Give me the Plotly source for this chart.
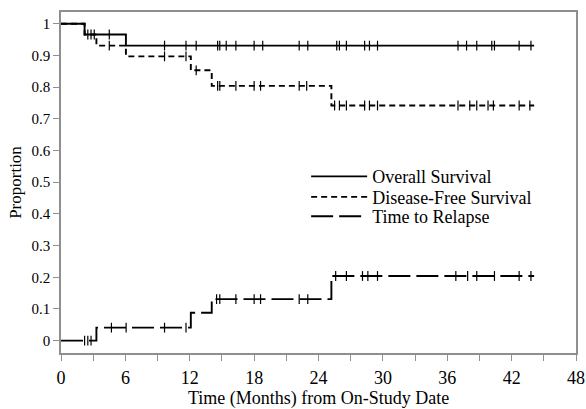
import plotly.graph_objects as go

# ---- data ----
END_TIME = 44.1

os_times = [0, 2.2, 6.05]
os_values = [1.0, 0.966, 0.931]
os_cens_t = [2.5, 2.8, 3.1, 4.5, 9.65, 11.65, 12.6, 14.6, 14.8, 15.4, 16.3, 18.0, 18.8,
             22.2, 23.0, 25.7, 25.95, 26.6, 28.3, 28.75, 29.5, 37.0, 37.8, 38.75, 40.15,
             40.4, 42.7, 43.8]

dfs_times = [0, 2.2, 3.3, 6.05, 12.1, 14.05, 25.2]
dfs_values = [1.0, 0.966, 0.931, 0.897, 0.853, 0.804, 0.742]
dfs_cens_t = [4.5, 9.65, 11.65, 12.6, 14.6, 14.8, 16.3, 18.0, 18.6, 22.2, 22.9,
              25.5, 25.95, 26.6, 28.3, 28.75, 29.5, 37.0, 38.1, 38.75, 39.8, 40.3,
              42.7, 43.7]

ttr_times = [0, 3.3, 12.1, 14.05, 25.2]
ttr_values = [0.0, 0.041, 0.088, 0.131, 0.204]
ttr_cens_t = [2.2, 2.5, 2.8, 4.7, 6.07, 9.65, 11.65, 14.5, 14.8, 16.3, 18.0, 18.6,
              22.2, 23.0, 25.6, 26.6, 28.1, 28.6, 29.5, 36.8, 37.9, 38.75, 40.4,
              42.7, 43.8]

x_ticks = [0, 6, 12, 18, 24, 30, 36, 42, 48]
y_ticks = [0, 0.1, 0.2, 0.3, 0.4, 0.5, 0.6, 0.7, 0.8, 0.9, 1]
y_tick_labels = ["0", "0.1", "0.2", "0.3", "0.4", "0.5", "0.6", "0.7", "0.8", "0.9", "1"]
x_title = "Time (Months) from On-Study Date"
y_title = "Proportion"


def step_value(times, values, t):
    v = values[0]
    for ti, vi in zip(times, values):
        if ti <= t:
            v = vi
    return v


FONT = "Liberation Serif"
GRAY = "#8f8f8f"

series = [
    ("Overall Survival", os_times, os_values, os_cens_t, "solid", "legend", 0.517),
    ("Disease-Free Survival", dfs_times, dfs_values, dfs_cens_t, "6px,4px", "legend2", 0.457),
    ("Time to Relapse", ttr_times, ttr_values, ttr_cens_t, "22px,6px", "legend3", 0.400),
]

fig = go.Figure()
for name, times, values, cens, dash, leg, ly in series:
    fig.add_trace(go.Scatter(
        x=list(times) + [END_TIME], y=list(values) + [values[-1]],
        mode="lines", line=dict(shape="hv", color="black", width=1.9, dash=dash),
        name=name, showlegend=True, legend=leg))
for name, times, values, cens, dash, leg, ly in series:
    fig.add_trace(go.Scatter(
        x=cens, y=[step_value(times, values, t) for t in cens],
        mode="markers", showlegend=False, hoverinfo="skip",
        marker=dict(symbol="line-ns", size=7, color="black",
                    line=dict(width=1.2, color="black"))))

legend_common = dict(x=0.476, xanchor="left", yanchor="middle",
                     bgcolor="rgba(0,0,0,0)", font=dict(family=FONT, size=18),
                     itemwidth=56)
legends = {}
for name, times, values, cens, dash, leg, ly in series:
    legends[leg] = dict(legend_common, y=ly)

fig.update_layout(
    width=586, height=409,
    margin=dict(l=61, r=10, t=12, b=56, autoexpand=False),
    paper_bgcolor="white", plot_bgcolor="white",
    font=dict(family=FONT, size=18, color="black"),
    **legends,
    xaxis=dict(range=[0, 48], tickvals=x_ticks, ticks="outside", ticklen=6,
               tickcolor=GRAY, showline=True, linecolor=GRAY, linewidth=1.5,
               mirror=True, showgrid=False, zeroline=False, automargin=False,
               minor=dict(dtick=3, ticks="outside", ticklen=6, tickcolor=GRAY),
               tickfont=dict(family=FONT, size=18), ticklabelstandoff=2),
    yaxis=dict(range=[-0.039, 1.037], tickvals=y_ticks, ticktext=y_tick_labels,
               ticks="outside", ticklen=6, tickcolor=GRAY, showline=True,
               linecolor=GRAY, linewidth=1.5, mirror=True, showgrid=False,
               zeroline=False, automargin=False, tickfont=dict(family=FONT, size=15),
               title=dict(text=y_title, font=dict(family=FONT, size=17),
                          standoff=6)),
    annotations=[dict(text=x_title, xref="paper", yref="paper", x=0.5, y=-0.133,
                      xanchor="center", yanchor="middle", showarrow=False,
                      font=dict(family=FONT, size=18, color="black"))],
)

fig.write_html("out.html")
